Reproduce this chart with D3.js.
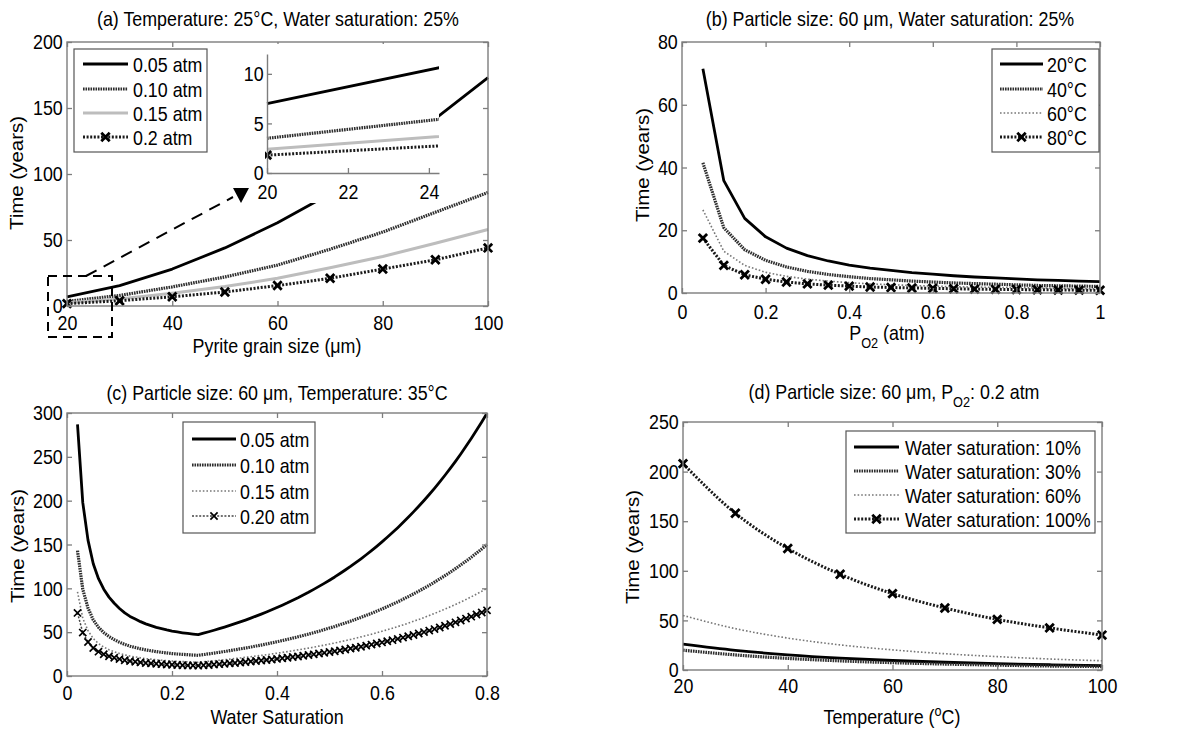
<!DOCTYPE html>
<html>
<head>
<meta charset="utf-8">
<script src="https://cdn.jsdelivr.net/npm/d3@7"></script>
<style>
  body { margin: 0; background: #fff; }
  svg text { font-family: "Liberation Sans", Arial, Helvetica, sans-serif; fill: #000; }
</style>
</head>
<body>
<svg id="fig" width="1199" height="730"></svg>
<script>
// ---------- (a) time vs pyrite grain size, 25 °C, Sw = 25 % ----------
const grainSize = [20, 30, 40, 50, 60, 70, 80, 90, 100];
const grain_p005 = [7, 15.5, 28, 44, 63, 85, 112, 142, 173];
const grain_p010 = [3.5, 8, 14.5, 22, 31, 43, 56, 71, 86];
const grain_p015 = [2.4, 5.4, 9.7, 14.7, 21, 29, 37.5, 47.5, 58];
const grain_p020 = [1.8, 4, 7, 10.6, 15.5, 21, 28, 35, 44];
const grainTicks = [20, 40, 60, 80, 100];
const grainTimeTicks = [0, 50, 100, 150, 200];
const insetGrainTicks = [20, 22, 24];
const insetTimeTicks = [0, 5, 10];

// ---------- (b) time vs oxygen partial pressure ----------
const pO2 = [0.05, 0.10, 0.15, 0.20, 0.25, 0.30, 0.35, 0.40, 0.45, 0.50,
             0.55, 0.60, 0.65, 0.70, 0.75, 0.80, 0.85, 0.90, 0.95, 1.00];
const po2_T20 = [71.5, 35.8, 23.8, 17.9, 14.3, 11.9, 10.2, 8.9, 7.9, 7.2,
                 6.5, 6.0, 5.5, 5.1, 4.8, 4.5, 4.2, 4.0, 3.8, 3.6];
const po2_T40 = [41.5, 20.8, 13.8, 10.4, 8.3, 6.9, 5.9, 5.2, 4.6, 4.2,
                 3.8, 3.5, 3.2, 3.0, 2.8, 2.6, 2.4, 2.3, 2.2, 2.1];
const po2_T60 = [26.5, 13.3, 8.8, 6.6, 5.3, 4.4, 3.8, 3.3, 2.9, 2.65,
                 2.4, 2.2, 2.0, 1.9, 1.8, 1.7, 1.6, 1.5, 1.4, 1.3];
const po2_T80 = [17.5, 8.8, 5.8, 4.4, 3.5, 2.9, 2.5, 2.2, 1.9, 1.75,
                 1.6, 1.5, 1.35, 1.25, 1.17, 1.1, 1.03, 0.97, 0.92, 0.88];
const po2Ticks = [0, 0.2, 0.4, 0.6, 0.8, 1];
const po2TimeTicks = [0, 20, 40, 60, 80];

// ---------- (c) time vs water saturation, 35 °C ----------
const waterSat = [0.02, 0.03, 0.04, 0.05, 0.06, 0.07, 0.08, 0.09, 0.10,
  0.11, 0.12, 0.13, 0.14, 0.15, 0.16, 0.17, 0.18, 0.19, 0.20,
  0.21, 0.22, 0.23, 0.24, 0.25, 0.26, 0.27, 0.28, 0.29, 0.30,
  0.31, 0.32, 0.33, 0.34, 0.35, 0.36, 0.37, 0.38, 0.39, 0.40,
  0.41, 0.42, 0.43, 0.44, 0.45, 0.46, 0.47, 0.48, 0.49, 0.50,
  0.51, 0.52, 0.53, 0.54, 0.55, 0.56, 0.57, 0.58, 0.59, 0.60,
  0.61, 0.62, 0.63, 0.64, 0.65, 0.66, 0.67, 0.68, 0.69, 0.70,
  0.71, 0.72, 0.73, 0.74, 0.75, 0.76, 0.77, 0.78, 0.79, 0.80];
const sat_p005 = [287, 198, 155, 128, 111, 99, 90, 83, 77,
  72, 68, 65, 62, 59.5, 57.5, 55.5, 54, 52.5, 51.2,
  50.2, 49.3, 48.5, 47.8, 47.2, 48.8, 50.5, 52.2, 54.0, 55.8,
  57.7, 59.7, 61.7, 63.8, 66.0, 68.3, 70.6, 73.0, 75.5, 78.1,
  80.8, 83.5, 86.4, 89.3, 92.4, 95.5, 98.8, 102.2, 105.7, 109.3,
  113.0, 116.9, 120.9, 125.0, 129.3, 133.7, 138.3, 143.0, 147.9, 153.0,
  158.2, 163.6, 169.2, 175.0, 181.0, 187.2, 193.6, 200.2, 207.0, 214.1,
  221.4, 229.0, 236.8, 244.9, 253.3, 262.0, 270.9, 280.2, 289.8, 299.7];
const sat_p010 = [143, 99, 77.5, 64, 55.5, 49.5, 45, 41.5, 38.5,
  36, 34, 32.5, 31, 29.8, 28.8, 27.8, 27, 26.3, 25.6,
  25.1, 24.7, 24.3, 23.9, 23.6, 24.4, 25.3, 26.1, 27.0, 27.9,
  28.9, 29.9, 30.9, 31.9, 33.0, 34.2, 35.3, 36.5, 37.8, 39.1,
  40.4, 41.8, 43.2, 44.7, 46.2, 47.8, 49.4, 51.1, 52.9, 54.7,
  56.5, 58.5, 60.5, 62.5, 64.7, 66.9, 69.2, 71.5, 74.0, 76.5,
  79.1, 81.8, 84.6, 87.5, 90.5, 93.6, 96.8, 100.1, 103.5, 107.1,
  110.7, 114.5, 118.4, 122.5, 126.7, 131.0, 135.5, 140.1, 144.9, 149.9];
const sat_p015 = [96, 66, 51.7, 42.7, 37, 33, 30, 27.7, 25.7,
  24, 22.7, 21.7, 20.7, 19.8, 19.2, 18.5, 18, 17.5, 17.1,
  16.7, 16.4, 16.2, 15.9, 15.7, 16.3, 16.8, 17.4, 18.0, 18.6,
  19.2, 19.9, 20.6, 21.3, 22.0, 22.8, 23.5, 24.3, 25.2, 26.0,
  26.9, 27.8, 28.8, 29.8, 30.8, 31.8, 32.9, 34.1, 35.2, 36.4,
  37.7, 39.0, 40.3, 41.7, 43.1, 44.6, 46.1, 47.7, 49.3, 51.0,
  52.7, 54.5, 56.4, 58.3, 60.3, 62.4, 64.5, 66.7, 69.0, 71.4,
  73.8, 76.3, 78.9, 81.6, 84.4, 87.3, 90.3, 93.4, 96.6, 99.9];
const sat_p020 = [72, 49.5, 38.8, 32, 27.8, 24.8, 22.5, 20.8, 19.3,
  18, 17, 16.3, 15.5, 14.9, 14.4, 13.9, 13.5, 13.1, 12.8,
  12.6, 12.3, 12.1, 12.0, 11.8, 12.2, 12.6, 13.1, 13.5, 14.0,
  14.4, 14.9, 15.4, 16.0, 16.5, 17.1, 17.7, 18.3, 18.9, 19.5,
  20.2, 20.9, 21.6, 22.3, 23.1, 23.9, 24.7, 25.6, 26.4, 27.3,
  28.3, 29.2, 30.2, 31.3, 32.3, 33.4, 34.6, 35.8, 37.0, 38.3,
  39.6, 40.9, 42.3, 43.8, 45.3, 46.8, 48.4, 50.1, 51.8, 53.5,
  55.4, 57.3, 59.2, 61.2, 63.3, 65.5, 67.7, 70.1, 72.5, 74.9];
const satTicks = [0, 0.2, 0.4, 0.6, 0.8];
const satTimeTicks = [0, 50, 100, 150, 200, 250, 300];

// ---------- (d) time vs temperature, PO2 = 0.2 atm ----------
const temperature = [20, 30, 40, 50, 60, 70, 80, 90, 100];
const temp_ws10 = [26, 19.8, 15.3, 12, 9.6, 7.8, 6.4, 5.3, 4.4];
const temp_ws30 = [20, 15.2, 11.7, 9.2, 7.4, 6.0, 4.9, 4.0, 3.4];
const temp_ws60 = [55, 41.7, 32.2, 25.3, 20.3, 16.4, 13.5, 11.1, 9.3];
const temp_ws100 = [208, 158, 122.5, 96.5, 77, 62.5, 51, 42.5, 35.2];
const tempTicks = [20, 40, 60, 80, 100];
const tempTimeTicks = [0, 50, 100, 150, 200, 250];

// ---------- drawing ----------
const AX = '#7d7d7d';
const FS = 21;        // font size of all horizontal text
const SX = 0.85;      // horizontal squeeze of the lettering
const svg = d3.select('#fig');
const fmt = d3.format('~g');

const xMark = s => `M${-s},${-s}L${s},${s}M${-s},${s}L${s},${-s}`;

const ST = {
  solid:    { stroke: '#000', width: 2.8 },
  dense:    { stroke: '#2e2e2e', width: 3.2, dash: '1.6,0.9' },
  light:    { stroke: '#bdbdbd', width: 3 },
  thinDot:  { stroke: '#777', width: 1.6, dash: '1.6,2' },
  markDot:  { stroke: '#1a1a1a', width: 3, dash: '2,1.6', marker: { size: 4.2, width: 2.8, stroke: '#000' } },
  thinMark: { stroke: '#444', width: 1.5, dash: '2,1.6', marker: { size: 3.6, width: 1.7, stroke: '#000' } }
};

// squeeze a horizontal text around its anchor x
function squeeze(t, x) {
  t.attr('transform', `translate(${x},0) scale(${SX},1) translate(${-x},0)`);
  return t;
}
function styleTicks(sel) {
  sel.selectAll('.tick line').attr('stroke', AX).attr('stroke-width', 1.3);
  sel.selectAll('.tick text').attr('font-size', FS).attr('font-family', null)
    .attr('fill', '#000').attr('transform', `scale(${SX},1)`);
}

function makePanel(f) {
  const g = svg.append('g');
  const x = d3.scaleLinear().domain(f.xDomain).range([f.x0, f.x1]);
  const y = d3.scaleLinear().domain(f.yDomain).range([f.y1, f.y0]);
  g.append('rect').attr('x', f.x0).attr('y', f.y0)
    .attr('width', f.x1 - f.x0).attr('height', f.y1 - f.y0).attr('fill', '#fff');
  const data = g.append('g');
  const frame = g.append('g');
  frame.append('rect').attr('x', f.x0).attr('y', f.y0)
    .attr('width', f.x1 - f.x0).attr('height', f.y1 - f.y0)
    .attr('fill', 'none').attr('stroke', AX).attr('stroke-width', 1.4);
  frame.append('g').attr('transform', `translate(0,${f.y1})`)
    .call(d3.axisBottom(x).tickValues(f.xTicks).tickSize(-5).tickPadding(f.xPad).tickFormat(fmt));
  frame.append('g').attr('transform', `translate(${f.x0},0)`)
    .call(d3.axisLeft(y).tickValues(f.yTicks).tickSize(-5).tickPadding(5).tickFormat(fmt));
  frame.append('g').attr('transform', `translate(0,${f.y0})`)
    .call(d3.axisTop(x).tickValues(f.xTicks).tickSize(-5).tickFormat(''));
  frame.append('g').attr('transform', `translate(${f.x1},0)`)
    .call(d3.axisRight(y).tickValues(f.yTicks).tickSize(-5).tickFormat(''));
  frame.selectAll('.domain').remove();
  styleTicks(frame);
  return { g, data, x, y };
}

function drawSeries(layer, x, y, xs, ys, st, curve) {
  const line = d3.line().x((d, i) => x(xs[i])).y(d => y(d)).curve(curve || d3.curveLinear);
  layer.append('path').datum(ys).attr('d', line)
    .attr('fill', 'none').attr('stroke', st.stroke).attr('stroke-width', st.width)
    .attr('stroke-dasharray', st.dash || null).attr('stroke-linejoin', 'round');
  if (st.marker) {
    layer.append('g').selectAll('path').data(ys).join('path')
      .attr('transform', (d, i) => `translate(${x(xs[i])},${y(d)})`)
      .attr('d', xMark(st.marker.size)).attr('fill', 'none')
      .attr('stroke', st.marker.stroke).attr('stroke-width', st.marker.width);
  }
}

function drawLegend(box, lineX, textX, rows, entries) {
  const g = svg.append('g');
  g.append('rect').attr('x', box[0]).attr('y', box[1])
    .attr('width', box[2] - box[0]).attr('height', box[3] - box[1])
    .attr('fill', '#fff').attr('stroke', '#555').attr('stroke-width', 1.2);
  entries.forEach((e, i) => {
    const cy = rows[i];
    g.append('line').attr('x1', lineX[0]).attr('x2', lineX[1]).attr('y1', cy).attr('y2', cy)
      .attr('stroke', e.st.stroke).attr('stroke-width', e.st.width)
      .attr('stroke-dasharray', e.st.dash || null);
    if (e.st.marker) {
      g.append('path').attr('transform', `translate(${(lineX[0] + lineX[1]) / 2},${cy})`)
        .attr('d', xMark(e.st.marker.size)).attr('fill', 'none')
        .attr('stroke', e.st.marker.stroke).attr('stroke-width', e.st.marker.width);
    }
    squeeze(g.append('text').attr('x', textX).attr('y', cy).attr('dy', '0.36em')
      .attr('font-size', FS).text(e.label), textX);
  });
}

// horizontal text built from pieces; kind 'sub' / 'sup' shifts a piece
function hText(x, y, parts) {
  const t = svg.append('text').attr('x', x).attr('y', y)
    .attr('font-size', FS).attr('text-anchor', 'middle');
  let shift = 0;
  parts.forEach(([s, kind]) => {
    const want = kind === 'sub' ? 8 : kind === 'sup' ? -8 : 0;
    const sp = t.append('tspan').text(s).attr('dy', want - shift);
    if (kind) sp.attr('font-size', 15);
    shift = want;
  });
  return squeeze(t, x);
}
function vText(x, y, str) {
  return svg.append('text').attr('x', x).attr('y', y).attr('font-size', 20.5)
    .attr('text-anchor', 'middle').attr('dy', '0.35em')
    .attr('transform', `translate(${x},${y}) scale(${SX},1) rotate(-90) translate(${-x},${-y})`)
    .text(str);
}

// ===== panel (a) =====
const pa = makePanel({ x0: 67, x1: 488, y0: 42, y1: 306, xDomain: [20, 100], yDomain: [0, 200],
  xTicks: grainTicks, yTicks: grainTimeTicks, xPad: 9 });
drawSeries(pa.data, pa.x, pa.y, grainSize, grain_p005, ST.solid);
drawSeries(pa.data, pa.x, pa.y, grainSize, grain_p010, ST.dense);
drawSeries(pa.data, pa.x, pa.y, grainSize, grain_p015, ST.light);
drawSeries(pa.data, pa.x, pa.y, grainSize, grain_p020, ST.markDot);
hText(278, 26, [['(a) Temperature: 25°C, Water saturation: 25%']]);
hText(277, 353, [['Pyrite grain size (μm)']]);
vText(17, 173, 'Time (years)');
drawLegend([74, 49, 207, 152], [83, 128], 133, [64, 89, 113, 137], [
  { label: '0.05 atm', st: ST.solid }, { label: '0.10 atm', st: ST.dense },
  { label: '0.15 atm', st: ST.light }, { label: '0.2 atm', st: ST.markDot }]);

// zoomed inset of the 20-24 µm range
const inset = svg.append('g');
inset.append('rect').attr('x', 247).attr('y', 44).attr('width', 192).attr('height', 159).attr('fill', '#fff');
const ix = d3.scaleLinear().domain([20, 24.25]).range([267, 439]);
const iy = d3.scaleLinear().domain([0, 12]).range([173, 54]);
svg.append('clipPath').attr('id', 'insetClip').append('rect')
  .attr('x', 265).attr('y', 54).attr('width', 174).attr('height', 121);
const iData = inset.append('g').attr('clip-path', 'url(#insetClip)');
drawSeries(iData, ix, iy, grainSize, grain_p005, ST.solid);
drawSeries(iData, ix, iy, grainSize, grain_p010, ST.dense);
drawSeries(iData, ix, iy, grainSize, grain_p015, ST.light);
drawSeries(iData, ix, iy, grainSize, grain_p020, ST.markDot);
inset.append('g').attr('transform', 'translate(0,173)')
  .call(d3.axisBottom(ix).tickValues(insetGrainTicks).tickSize(-5).tickPadding(11).tickSizeOuter(0).tickFormat(fmt));
inset.append('g').attr('transform', 'translate(267,0)')
  .call(d3.axisLeft(iy).tickValues(insetTimeTicks).tickSize(-5).tickPadding(4).tickSizeOuter(0).tickFormat(fmt));
inset.selectAll('.domain').attr('stroke', AX).attr('stroke-width', 1.4);
styleTicks(inset);

// dashed zoom box and arrow
const ann = svg.append('g');
ann.append('rect').attr('x', 48).attr('y', 276).attr('width', 64).attr('height', 61)
  .attr('fill', 'none').attr('stroke', '#000').attr('stroke-width', 2).attr('stroke-dasharray', '9,6');
ann.append('line').attr('x1', 86).attr('y1', 276).attr('x2', 233).attr('y2', 197)
  .attr('stroke', '#000').attr('stroke-width', 2).attr('stroke-dasharray', '12,8');
ann.append('path').attr('d', 'M233,188L249,188L241,203Z').attr('fill', '#000');

// ===== panel (b) =====
const pb = makePanel({ x0: 682, x1: 1100, y0: 42, y1: 293, xDomain: [0, 1], yDomain: [0, 80],
  xTicks: po2Ticks, yTicks: po2TimeTicks, xPad: 11.5 });
drawSeries(pb.data, pb.x, pb.y, pO2, po2_T20, ST.solid);
drawSeries(pb.data, pb.x, pb.y, pO2, po2_T40, ST.dense);
drawSeries(pb.data, pb.x, pb.y, pO2, po2_T60, ST.thinDot);
drawSeries(pb.data, pb.x, pb.y, pO2, po2_T80, ST.markDot);
hText(890, 26, [['(b) Particle size: 60 μm, Water saturation: 25%']]);
hText(887, 340, [['P'], ['O2', 'sub'], [' (atm)']]);
vText(643, 165, 'Time (years)');
drawLegend([992, 49, 1099, 152], [1000, 1043], 1047, [64, 89, 113, 137], [
  { label: '20°C', st: ST.solid }, { label: '40°C', st: ST.dense },
  { label: '60°C', st: ST.thinDot }, { label: '80°C', st: ST.markDot }]);

// ===== panel (c) =====
const pc = makePanel({ x0: 67, x1: 487, y0: 413, y1: 676, xDomain: [0, 0.8], yDomain: [0, 300],
  xTicks: satTicks, yTicks: satTimeTicks, xPad: 9 });
drawSeries(pc.data, pc.x, pc.y, waterSat, sat_p005, ST.solid);
drawSeries(pc.data, pc.x, pc.y, waterSat, sat_p010, ST.dense);
drawSeries(pc.data, pc.x, pc.y, waterSat, sat_p015, ST.thinDot);
drawSeries(pc.data, pc.x, pc.y, waterSat, sat_p020, ST.thinMark);
hText(277, 400, [['(c) Particle size: 60 μm, Temperature: 35°C']]);
hText(277, 724, [['Water Saturation']]);
vText(18, 546, 'Time (years)');
drawLegend([183, 422, 315, 533], [192, 236], 240, [439, 465, 491, 516], [
  { label: '0.05 atm', st: ST.solid }, { label: '0.10 atm', st: ST.dense },
  { label: '0.15 atm', st: ST.thinDot }, { label: '0.20 atm', st: ST.thinMark }]);

// ===== panel (d) =====
const pd = makePanel({ x0: 683, x1: 1102, y0: 422, y1: 670, xDomain: [20, 100], yDomain: [0, 250],
  xTicks: tempTicks, yTicks: tempTimeTicks, xPad: 8 });
drawSeries(pd.data, pd.x, pd.y, temperature, temp_ws10, ST.solid, d3.curveMonotoneX);
drawSeries(pd.data, pd.x, pd.y, temperature, temp_ws30, ST.dense, d3.curveMonotoneX);
drawSeries(pd.data, pd.x, pd.y, temperature, temp_ws60, ST.thinDot, d3.curveMonotoneX);
drawSeries(pd.data, pd.x, pd.y, temperature, temp_ws100, ST.markDot, d3.curveMonotoneX);
hText(894, 399, [['(d) Particle size: 60 μm, P'], ['O2', 'sub'], [': 0.2 atm']]);
hText(892, 724, [['Temperature ('], ['o', 'sup'], ['C)']]);
vText(633, 547, 'Time (years)');
drawLegend([846, 431, 1095, 533], [854, 899], 905, [447, 471, 495, 519], [
  { label: 'Water saturation: 10%', st: ST.solid }, { label: 'Water saturation: 30%', st: ST.dense },
  { label: 'Water saturation: 60%', st: ST.thinDot }, { label: 'Water saturation: 100%', st: ST.markDot }]);
</script>
</body>
</html>
